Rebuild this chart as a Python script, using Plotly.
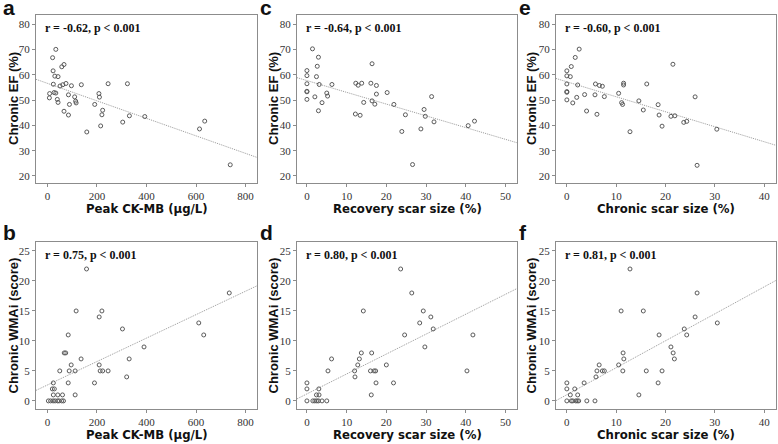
import numpy as np
import plotly.graph_objects as go

# ---------------- data ----------------
# Panel a: Peak CK-MB vs Chronic EF
a_x = [34, 21, 23, 30, 43, 24, 58, 67, 51, 62, 75, 97, 137, 245, 323, 9, 8, 27, 34, 40, 43,
       85, 89, 67, 85, 110, 114, 116, 191, 208, 210, 223, 220, 215, 159, 304, 331, 393, 614, 635, 738]
a_y = [70.1, 66.8, 61.6, 59.5, 59.3, 56.3, 63.2, 64.1, 55.6, 56.1, 56.6, 55.7, 56.1, 56.5, 56.5,
       52.6, 50.9, 53.0, 52.8, 50.3, 49.1, 52.1, 48.3, 45.6, 44.1, 51.3, 49.6, 48.9, 48.3, 52.6,
       51.2, 46.0, 44.2, 39.8, 37.4, 41.3, 43.8, 43.5, 38.6, 41.7, 24.4]

# Panel b: Peak CK-MB vs Chronic WMAi
b_x = [4, 13, 23, 31, 41, 47, 58, 65, 24, 42, 61, 112, 20, 28, 24, 50, 84, 88, 84, 68, 74, 96,
       112, 136, 116, 158, 190, 209, 220, 209, 213, 223, 245, 303, 320, 330, 390, 611, 631, 734]
b_y = [0, 0, 0, 0, 0, 0, 0, 0, 1, 1, 1, 1, 2, 2, 3, 5, 3, 5, 11, 8, 8, 6,
       5, 7, 15, 22, 3, 14, 15, 6, 5, 5, 5, 12, 4, 7, 9, 13, 11, 18]

# Panel c: Recovery scar size vs Chronic EF
c_x = [1.4, 2.9, 2.6, 2.4, 0, 0, 0, 0, 0, 0, 3.1, 6.3, 2.0, 5.0, 5.2, 3.8, 2.9, 12.3, 12.9, 13.8,
       16.4, 16.1, 17.5, 17.5, 16.4, 17.1, 14.3, 12.2, 13.4, 20.2, 21.9, 24.8, 23.9, 31.4, 29.5,
       29.8, 32.0, 28.7, 26.6, 40.6, 42.2]
c_y = [70.3, 67.0, 63.4, 59.3, 61.7, 59.7, 56.5, 53.5, 53.3, 50.3, 56.2, 56.2, 51.3, 52.8, 51.6,
       49.0, 45.8, 56.7, 55.9, 56.7, 64.4, 56.7, 55.8, 52.4, 49.7, 48.4, 49.1, 44.5, 44.0, 53.0,
       48.3, 44.2, 37.6, 51.4, 46.3, 43.6, 41.4, 38.6, 24.5, 39.9, 41.7]

# Panel d: Recovery scar size vs Chronic WMAi
d_x = [0, 1.5, 2.0, 2.5, 2.9, 3.8, 5.0, 0, 0, 2.4, 3.05, 3.0, 5.3, 6.2, 12.0, 12.1, 12.8, 13.2,
       13.7, 14.2, 16.3, 16.0, 16.9, 17.3, 16.2, 17.4, 20.0, 21.8, 23.6, 26.4, 24.6, 28.4, 29.3,
       31.2, 31.8, 29.7, 40.3, 41.8]
d_y = [0, 0, 0, 0, 0, 0, 0, 2, 3, 1, 1, 2, 5, 7, 5, 4, 6, 7,
       8, 15, 8, 5, 5, 5, 1, 3, 6, 3, 22, 18, 11, 13, 15,
       14, 12, 9, 5, 11]

# Panel e: Chronic scar size vs Chronic EF
e_x = [2.5, 1.7, 0.9, 0, 0, 0.7, 0, 0, 0, 0, 2.2, 2.0, 1.2, 3.6, 4.0, 5.7, 5.8, 6.6, 7.2, 7.6,
       6.1, 10.5, 11.1, 11.3, 11.5, 11.5, 12.8, 16.2, 14.6, 15.5, 18.5, 18.7, 19.3, 21.5, 21.1,
       21.9, 23.7, 24.3, 26.0, 30.4, 26.4]
e_y = [70.2, 66.9, 63.3, 61.6, 59.6, 59.3, 56.4, 53.4, 53.1, 50.1, 56.0, 51.1, 48.9, 52.2, 45.7,
       52.1, 56.4, 55.8, 55.5, 51.4, 44.4, 52.7, 49.0, 48.3, 56.7, 56.0, 37.5, 56.4, 49.7, 46.1,
       48.2, 44.1, 39.7, 64.2, 43.6, 43.8, 41.2, 41.6, 51.3, 38.5, 24.2]

# Panel f: Chronic scar size vs Chronic WMAi
f_x = [0, 0.9, 1.2, 1.8, 2.1, 2.4, 4.05, 5.7, 0, 0, 0.7, 2.2, 1.6, 3.5, 5.9, 6.1, 6.55, 7.2, 7.6,
       10.5, 11.0, 11.4, 11.55, 11.35, 12.8, 14.6, 15.5, 16.1, 18.7, 18.5, 19.3, 21.1, 21.55,
       21.8, 23.8, 24.3, 26.0, 26.4, 30.5]
f_y = [0, 0, 0, 0, 0, 0, 0, 0, 2, 3, 1, 1, 2, 3, 4, 5, 6, 5, 5,
       6, 15, 8, 7, 5, 22, 1, 15, 5, 11, 3, 5, 9, 8,
       7, 12, 11, 14, 18, 13]

panel_letters = ["a", "c", "e", "b", "d", "f"]
stats_text = ["r = -0.62, p < 0.001", "r = -0.64, p < 0.001", "r = -0.60, p < 0.001",
              "r = 0.75, p < 0.001", "r = 0.80, p < 0.001", "r = 0.81, p < 0.001"]
x_titles = ["Peak CK-MB (µg/L)", "Recovery scar size (%)", "Chronic scar size (%)"]
y_titles = ["Chronic EF (%)", "Chronic WMAi (score)"]

x_ranges = [[-46, 846], [-2.5, 52.9], [-2.2, 42.4]]
x_ticks = [[0, 200, 400, 600, 800], [0, 10, 20, 30, 40, 50], [0, 10, 20, 30, 40]]
y_ranges = [[17.2, 83.7], [-1.35, 26.5]]
y_ticks = [[20, 30, 40, 50, 60, 70, 80], [0, 5, 10, 15, 20, 25]]

# ---------------- layout ----------------
W, H = 778, 444
x_px = [(36, 257), (297, 517), (556, 776)]
y_px = [(15, 183), (242, 409)]
x_dom = [[a / W, b / W] for a, b in x_px]
y_dom = [[1 - b / H, 1 - a / H] for a, b in y_px]
ytitle_x = [13, 273, 531]
xtitle_y = [208, 434]
letter_x = [1, 258, 517]
letter_top = [-6, 219]

panels = [(a_x, a_y), (c_x, c_y), (e_x, e_y), (b_x, b_y), (d_x, d_y), (f_x, f_y)]

fig = go.Figure()
layout = dict(
    width=W, height=H, margin=dict(l=0, r=0, t=0, b=0, autoexpand=False),
    paper_bgcolor="white", plot_bgcolor="white", showlegend=False,
    annotations=[],
)

XT_FONT = "Liberation Sans Narrow, DejaVu Sans Condensed, Liberation Sans, Arial"

for i, (xs, ys) in enumerate(panels):
    row = i // 3
    col = i % 3
    n = i + 1
    xa = "x" if n == 1 else f"x{n}"
    ya = "y" if n == 1 else f"y{n}"
    xs = np.array(xs, dtype=float)
    ys = np.array(ys, dtype=float)
    slope, icpt = np.polyfit(xs, ys, 1)
    xr = x_ranges[col]
    lx = np.array(xr)
    fig.add_trace(go.Scatter(x=lx, y=icpt + slope * lx, mode="lines",
                             line=dict(color="#9a9a9a", width=1, dash="1px,1px"),
                             xaxis=xa, yaxis=ya, hoverinfo="skip"))
    fig.add_trace(go.Scatter(x=xs, y=ys, mode="markers",
                             marker=dict(symbol="circle-open", size=4,
                                         color="#5a5a5a", line=dict(width=1, color="#5a5a5a")),
                             xaxis=xa, yaxis=ya))
    axis_common = dict(showline=True, linecolor="#8c8c8c", linewidth=1, mirror=True,
                       showgrid=False, zeroline=False, ticks="outside", ticklen=3,
                       tickcolor="#8c8c8c", automargin=False,
                       tickfont=dict(family="Liberation Serif", size=11, color="#333333"))
    layout["xaxis" if n == 1 else f"xaxis{n}"] = dict(
        axis_common, domain=x_dom[col], range=xr, tickvals=x_ticks[col], anchor=ya)
    layout["yaxis" if n == 1 else f"yaxis{n}"] = dict(
        axis_common, domain=y_dom[row], range=y_ranges[row], tickvals=y_ticks[row], anchor=xa)
    # axis titles
    x0, x1 = x_px[col]
    layout["annotations"].append(dict(
        text=f"<b>{x_titles[col]}</b>", xref="paper", yref="paper",
        x=(x0 + x1) / 2 / W, y=1 - xtitle_y[row] / H, xanchor="center", yanchor="middle",
        showarrow=False, font=dict(family=XT_FONT, size=13, color="#111111")))
    y0, y1 = y_px[row]
    layout["annotations"].append(dict(
        text=f"<b>{y_titles[row]}</b>", xref="paper", yref="paper", textangle=-90,
        x=ytitle_x[col] / W, y=1 - (y0 + y1) / 2 / H, xanchor="center", yanchor="middle",
        showarrow=False, font=dict(family="Liberation Sans, Arial", size=13, color="#111111")))
    # stats text
    layout["annotations"].append(dict(
        text=f"<b>{stats_text[i]}</b>", xref=f"{xa} domain", yref=f"{ya} domain",
        x=0.033, y=0.925, xanchor="left", yanchor="middle", showarrow=False,
        font=dict(family="Liberation Serif", size=12, color="#111111")))
    # panel letter
    layout["annotations"].append(dict(
        text=f"<b>{panel_letters[i]}</b>", xref="paper", yref="paper",
        x=letter_x[col] / W, y=1 - letter_top[row] / H,
        xanchor="left", yanchor="top", showarrow=False,
        font=dict(family="Liberation Sans, Arial", size=21, color="#111111")))

fig.update_layout(**layout)
fig.write_html("out.html", config={"displayModeBar": False},
               post_script="document.body.style.margin='0';")
